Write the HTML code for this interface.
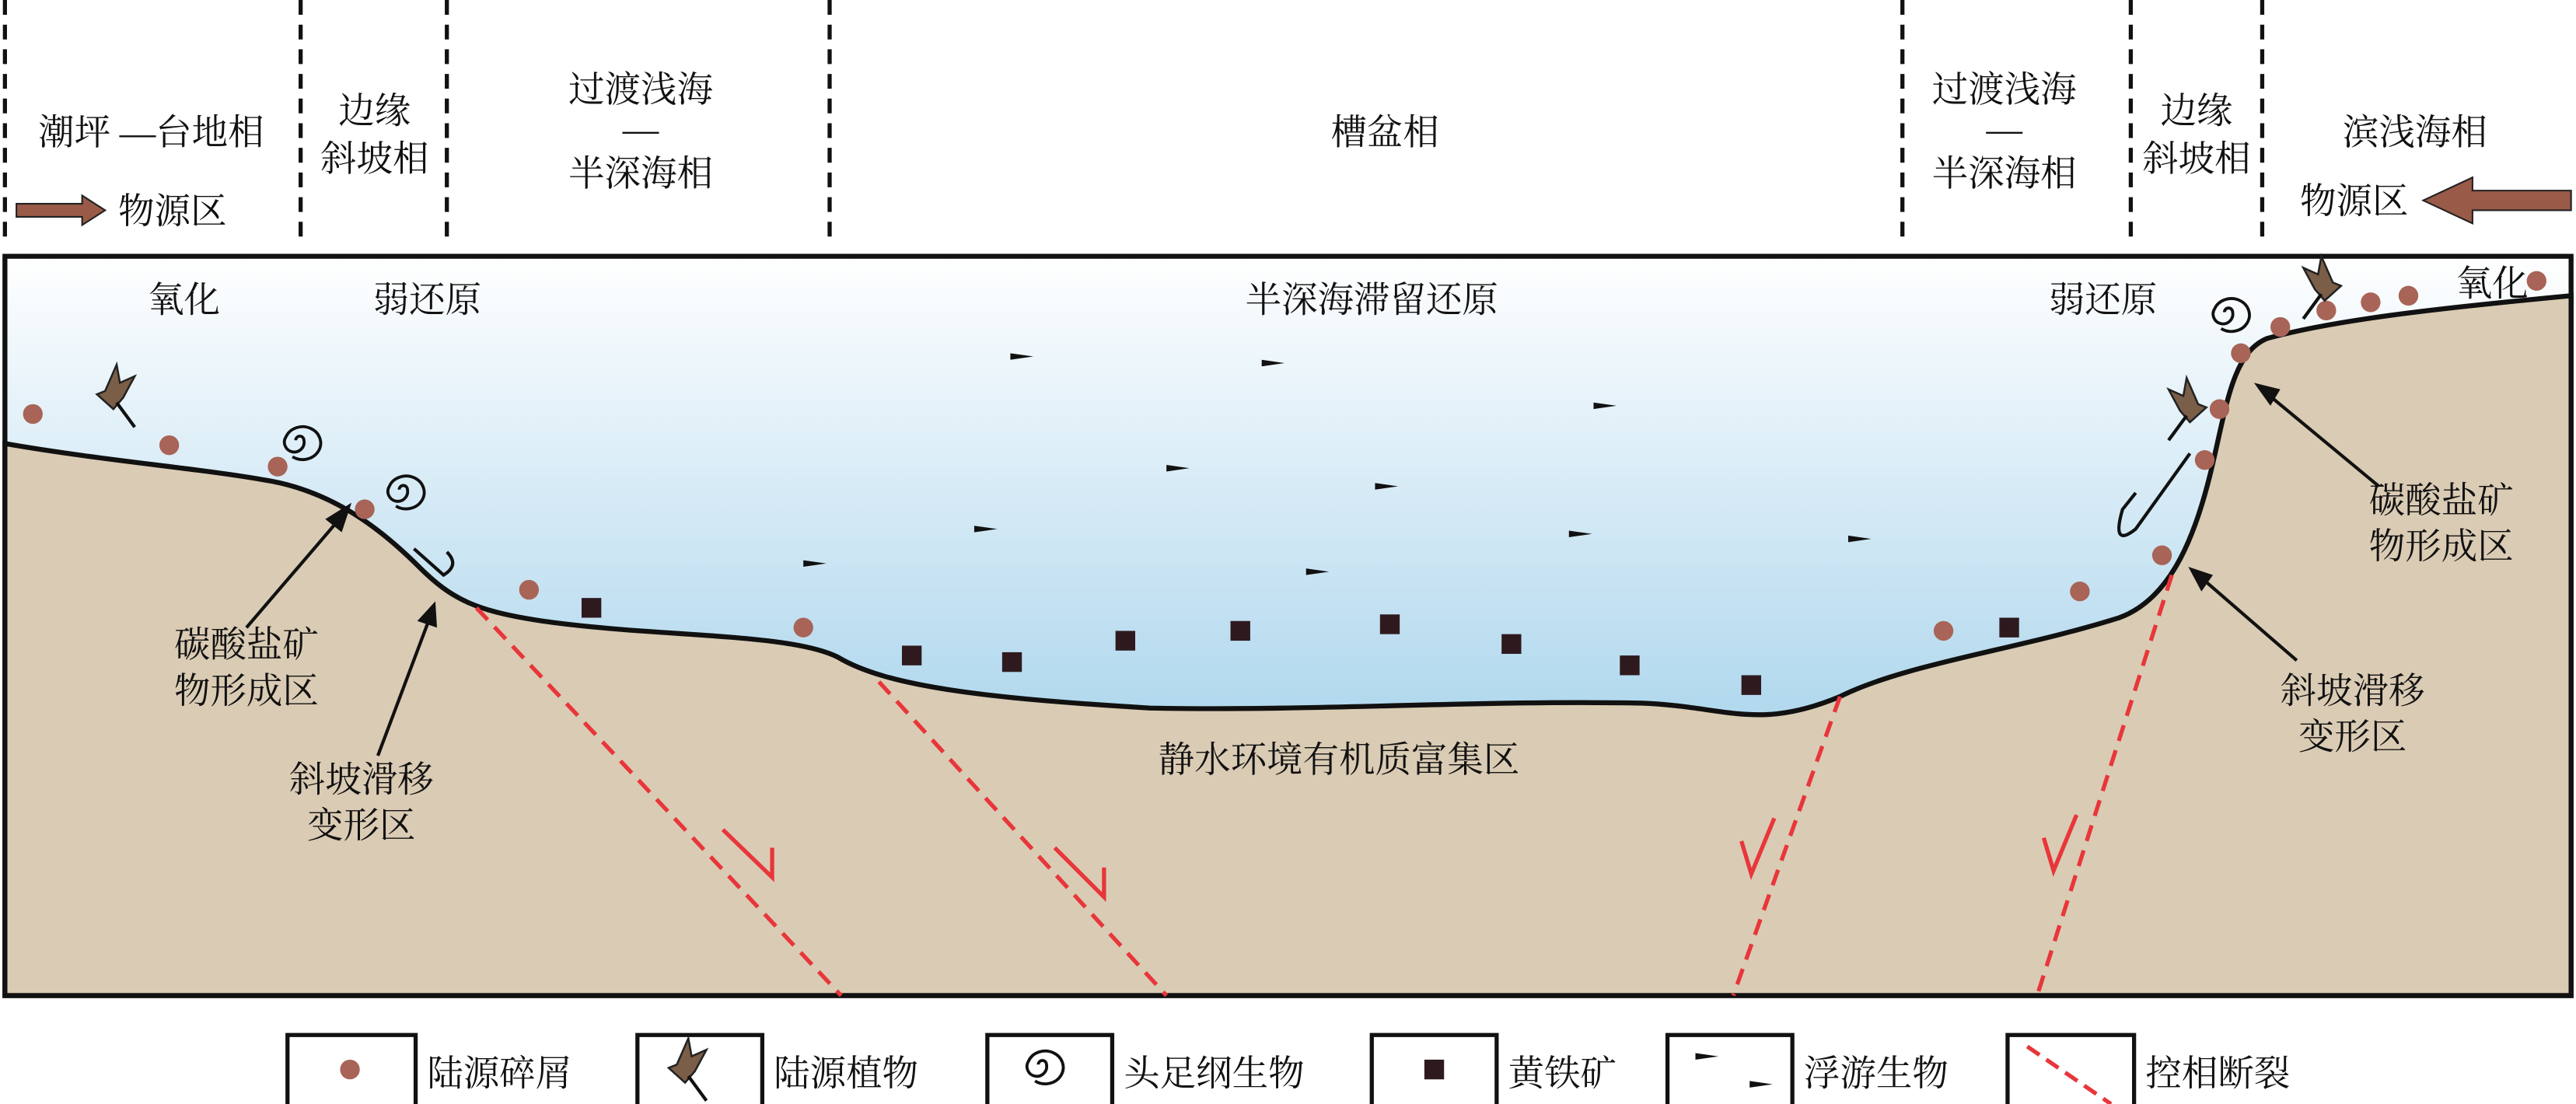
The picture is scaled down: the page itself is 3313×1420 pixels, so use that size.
<!DOCTYPE html>
<html><head><meta charset="utf-8"><style>
html,body{margin:0;padding:0;background:#fff}
svg{display:block}
text{font-family:"Liberation Serif","Noto Serif CJK SC",serif;fill:#111}
</style></head><body>
<svg width="3313" height="1420" viewBox="0 0 1568 672" preserveAspectRatio="none" xmlns="http://www.w3.org/2000/svg">
<defs>
<linearGradient id="w" x1="0" y1="0" x2="0" y2="1">
<stop offset="0" stop-color="#ffffff"/><stop offset="0.6" stop-color="#b3d9ee"/><stop offset="1" stop-color="#a8d3ec"/>
</linearGradient>
<g id="plant"><path d="M0,0 L7,-16 L9,-5 L18,-9 L11,4 L5,11 L-5,2 Z" fill="#7b5e48" stroke="#222" stroke-width="1.2"/><line x1="7" y1="7" x2="18" y2="22" stroke="#111" stroke-width="2"/></g>
<g id="spiral"><path d="M0,0 a2.5,2.5 0 1,1 5,0 a6,6 0 1,1 -11,-2 a11,10 0 1,1 4,12" fill="none" stroke="#111" stroke-width="1.8"/></g>
<g id="pl"><path d="M0,0 L14,2 L0,4 Z" fill="#111"/></g>
</defs>
<g stroke="#111" stroke-width="2.5" stroke-dasharray="9,6">
<line x1="3" y1="0" x2="3" y2="150"/><line x1="183" y1="0" x2="183" y2="150"/><line x1="272" y1="0" x2="272" y2="150"/><line x1="505" y1="0" x2="505" y2="150"/><line x1="1158" y1="0" x2="1158" y2="150"/><line x1="1297" y1="0" x2="1297" y2="150"/><line x1="1377" y1="0" x2="1377" y2="150"/>
</g>
<g font-size="22" text-anchor="middle">
<text x="92" y="88">潮坪 —台地相</text>
<text x="228" y="75">边缘</text><text x="228" y="104">斜坡相</text>
<text x="390" y="62">过渡浅海</text><text x="390" y="86">—</text><text x="390" y="113">半深海相</text>
<text x="843" y="88">槽盆相</text>
<text x="1220" y="62">过渡浅海</text><text x="1220" y="86">—</text><text x="1220" y="113">半深海相</text>
<text x="1337" y="75">边缘</text><text x="1337" y="104">斜坡相</text>
<text x="1470" y="88">滨浅海相</text>
<text x="105" y="136">物源区</text><text x="1433" y="130">物源区</text>
</g>
<path d="M10,124 L50,124 L50,119 L64,128 L50,137 L50,132 L10,132 Z" fill="#9a5a48" stroke="#222" stroke-width="1"/>
<path d="M1565,116 L1505,116 L1505,108 L1475,122 L1505,136 L1505,128 L1565,128 Z" fill="#9a5a48" stroke="#222" stroke-width="1"/>
<rect x="3" y="156" width="1562" height="450" fill="url(#w)"/>
<path d="M3,270 C60,280 120,285 160,292 C200,298 230,320 255,345 C275,365 290,372 330,378 C400,388 480,385 510,400 C540,418 600,425 700,431 C800,433 900,426 1000,428 C1050,430 1070,445 1120,424 C1160,404 1230,395 1290,376 C1320,365 1335,330 1345,290 C1355,250 1358,215 1380,206 C1420,195 1480,188 1565,180 L1565,606 L3,606 Z" fill="#dacbb4" stroke="#111" stroke-width="3"/>
<rect x="3" y="156" width="1562" height="450" fill="none" stroke="#111" stroke-width="3"/>
<g stroke="#e8363a" stroke-width="2.5" stroke-dasharray="10,6" fill="none">
<line x1="290" y1="370" x2="512" y2="606"/><line x1="535" y1="415" x2="710" y2="606"/>
<line x1="1120" y1="424" x2="1055" y2="606"/><line x1="1322" y1="350" x2="1240" y2="606"/>
</g>
<g stroke="#e8363a" stroke-width="2.5" fill="none">
<polyline points="440,505 470,534 470,516"/><polyline points="642,516 672,546 672,528"/>
<polyline points="1060,512 1066,532 1080,498"/><polyline points="1244,510 1250,530 1264,496"/>
</g>
<g font-size="22" text-anchor="middle">
<text x="112" y="190">氧化</text><text x="260" y="190">弱还原</text><text x="835" y="190">半深海滞留还原</text>
<text x="1280" y="190">弱还原</text><text x="1517" y="180">氧化</text>
<text x="150" y="400">碳酸盐矿</text><text x="150" y="428">物形成区</text>
<text x="220" y="482">斜坡滑移</text><text x="220" y="510">变形区</text>
<text x="815" y="470">静水环境有机质富集区</text>
<text x="1486" y="312">碳酸盐矿</text><text x="1486" y="340">物形成区</text>
<text x="1432" y="428">斜坡滑移</text><text x="1432" y="456">变形区</text>
</g>
<g stroke="#111" stroke-width="2"><line x1="150" y1="382" x2="210" y2="312"/><line x1="230" y1="460" x2="262" y2="375"/><line x1="1448" y1="296" x2="1378" y2="238"/><line x1="1398" y1="402" x2="1338" y2="350"/></g>
<g fill="#111"><path d="M214,306 L198,316 L208,324 Z"/><path d="M265,366 L254,378 L266,382 Z"/><path d="M1372,233 L1382,247 L1388,237 Z"/><path d="M1332,345 L1340,360 L1347,350 Z"/></g>
<g fill="#a86457">
<ellipse cx="20" cy="252" rx="6" ry="6"/><ellipse cx="103" cy="271" rx="6" ry="6"/><ellipse cx="169" cy="284" rx="6" ry="6"/><ellipse cx="222" cy="310" rx="6" ry="6"/><ellipse cx="322" cy="359" rx="6" ry="6"/><ellipse cx="489" cy="382" rx="6" ry="6"/>
<ellipse cx="1183" cy="384" rx="6" ry="6"/><ellipse cx="1266" cy="360" rx="6" ry="6"/><ellipse cx="1316" cy="338" rx="6" ry="6"/><ellipse cx="1342" cy="280" rx="6" ry="6"/><ellipse cx="1351" cy="249" rx="6" ry="6"/><ellipse cx="1364" cy="215" rx="6" ry="6"/><ellipse cx="1388" cy="199" rx="6" ry="6"/><ellipse cx="1416" cy="189" rx="6" ry="6"/><ellipse cx="1443" cy="184" rx="6" ry="6"/><ellipse cx="1466" cy="180" rx="6" ry="6"/><ellipse cx="1544" cy="171" rx="6" ry="6"/>
</g>
<g fill="#2e1a1e"><rect x="354" y="364" width="12" height="12"/><rect x="549" y="393" width="12" height="12"/><rect x="610" y="397" width="12" height="12"/><rect x="679" y="384" width="12" height="12"/><rect x="749" y="378" width="12" height="12"/><rect x="840" y="374" width="12" height="12"/><rect x="914" y="386" width="12" height="12"/><rect x="986" y="399" width="12" height="12"/><rect x="1060" y="411" width="12" height="12"/><rect x="1217" y="376" width="12" height="12"/></g>
<use href="#plant" transform="translate(64,238)"/>
<use href="#plant" transform="translate(1318,246) scale(-1,1) translate(-20,0)"/>
<use href="#plant" transform="translate(1400,172) scale(-1,1) translate(-20,0)"/>
<use href="#spiral" transform="translate(180,268)"/>
<use href="#spiral" transform="translate(243,298)"/>
<use href="#spiral" transform="translate(1354,190)"/>
<path d="M252,334 L270,350 Q280,344 272,336" fill="none" stroke="#111" stroke-width="2"/>
<path d="M1333,276 L1300,322 Q1285,334 1292,310 L1300,300" fill="none" stroke="#111" stroke-width="2"/>
<g>
<use href="#pl" x="615" y="215"/><use href="#pl" x="768" y="219"/><use href="#pl" x="970" y="245"/><use href="#pl" x="710" y="283"/><use href="#pl" x="837" y="294"/><use href="#pl" x="593" y="320"/><use href="#pl" x="955" y="323"/><use href="#pl" x="1125" y="326"/><use href="#pl" x="489" y="341"/><use href="#pl" x="795" y="346"/>
</g>
<g fill="none" stroke="#111" stroke-width="2.5">
<rect x="175" y="630" width="78" height="44"/><rect x="388" y="630" width="76" height="44"/><rect x="601" y="630" width="76" height="44"/><rect x="835" y="630" width="76" height="44"/><rect x="1015" y="630" width="76" height="44"/><rect x="1222" y="630" width="77" height="44"/>
</g>
<ellipse cx="213" cy="651" rx="6" ry="6" fill="#a86457"/>
<use href="#plant" transform="translate(412,648)"/>
<use href="#spiral" transform="translate(632,648)"/>
<rect x="867" y="645" width="12" height="12" fill="#2e1a1e"/>
<use href="#pl" x="1032" y="641"/><use href="#pl" x="1065" y="658"/>
<line x1="1234" y1="637" x2="1285" y2="672" stroke="#e8363a" stroke-width="2.5" stroke-dasharray="9,5"/>
<g font-size="22">
<text x="260" y="661">陆源碎屑</text><text x="471" y="661">陆源植物</text><text x="684" y="661">头足纲生物</text><text x="918" y="661">黄铁矿</text><text x="1098" y="661">浮游生物</text><text x="1306" y="661">控相断裂</text>
</g>
</svg>
</body></html>
